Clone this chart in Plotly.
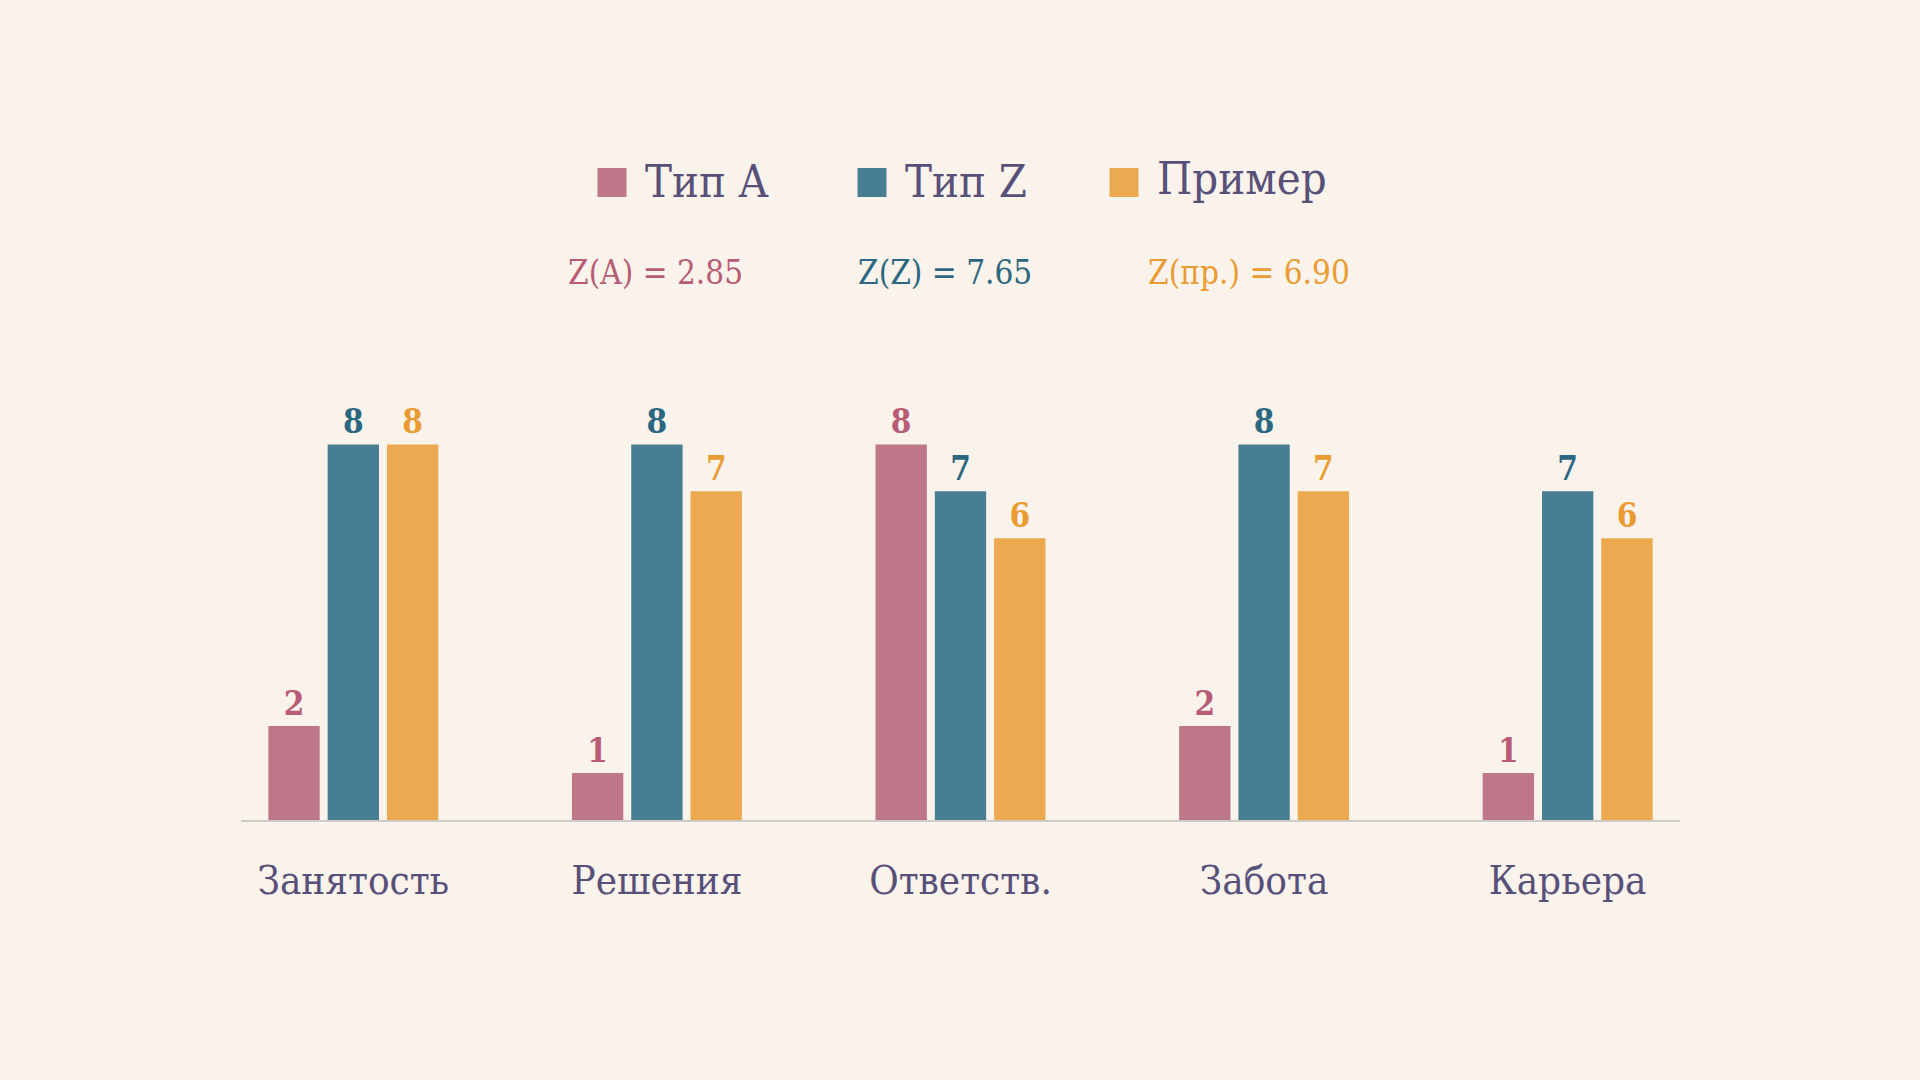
import plotly.graph_objects as go

categories = ['Занятость', 'Решения', 'Ответств.', 'Забота', 'Карьера']
series_names = ['Тип A', 'Тип Z', 'Пример']
type_a = [2, 1, 8, 2, 1]
type_z = [8, 8, 7, 8, 7]
example = [8, 7, 6, 7, 6]
z_labels = ['Z(A) = 2.85', 'Z(Z) = 7.65', 'Z(пр.) = 6.90']

BG = '#FAF3EC'
TEXT = '#575079'
FONT = 'DejaVu Serif Condensed, DejaVu Serif, serif'
bar_colors = ['#BE7789', '#477E92', '#ECA94F']
label_colors = ['#B85C76', '#2B6780', '#EA9C33']

W, H = 1920, 1080
ML, MR, MT, MB = 241, 240, 374, 260


def px_x(px):
    # pixel -> paper x
    return (px - ML) / (W - ML - MR)


def px_y(py):
    # pixel (from top) -> paper y
    return (H - MB - py) / (H - MT - MB)


fig = go.Figure()
for name, vals, col, lcol in zip(series_names, [type_a, type_z, example], bar_colors, label_colors):
    fig.add_trace(go.Bar(
        x=categories,
        y=vals,
        name=name,
        marker=dict(color=col, line=dict(width=0)),
        text=vals,
        textposition='outside',
        textfont=dict(family=FONT, size=33, color=lcol, weight='bold'),
        cliponaxis=False,
        showlegend=False,
    ))

# legend built by hand so the swatches can be large
sq_x = [612, 872, 1124]
txt_y = [181, 181, 178]
for i, name in enumerate(series_names):
    fig.add_shape(type='rect', xref='paper', yref='paper',
                  x0=px_x(sq_x[i] - 14.5), x1=px_x(sq_x[i] + 14.5),
                  y0=px_y(197), y1=px_y(168),
                  fillcolor=bar_colors[i], line=dict(width=0))
    fig.add_annotation(xref='paper', yref='paper', x=px_x(sq_x[i] + 31), y=px_y(txt_y[i]),
                       text=name, showarrow=False, xanchor='left', yanchor='middle',
                       font=dict(family=FONT, size=45, color=TEXT))

# z score annotations
z_x = [655, 945, 1249]
for i, txt in enumerate(z_labels):
    fig.add_annotation(xref='paper', yref='paper', x=px_x(z_x[i]), y=px_y(273),
                       text=txt, showarrow=False, xanchor='center', yanchor='middle',
                       font=dict(family=FONT, size=33, color=label_colors[i]))

fig.update_layout(
    width=W, height=H,
    paper_bgcolor=BG, plot_bgcolor=BG,
    barmode='group', bargap=0.414, bargroupgap=0.134,
    margin=dict(l=ML, r=MR, t=MT, b=MB),
    font=dict(family=FONT, color=TEXT),
)
fig.update_xaxes(range=[-0.37, 4.37], showline=True, linecolor='#CFCCCB', linewidth=2,
                 showgrid=False, ticks='', ticklabelstandoff=24,
                 tickfont=dict(family=FONT, size=40, color=TEXT))
fig.update_yaxes(range=[0, 9.5], visible=False, showgrid=False, zeroline=False)

fig.write_html('out.html', config={'displayModeBar': False},
               post_script="document.body.style.margin = '0';")
